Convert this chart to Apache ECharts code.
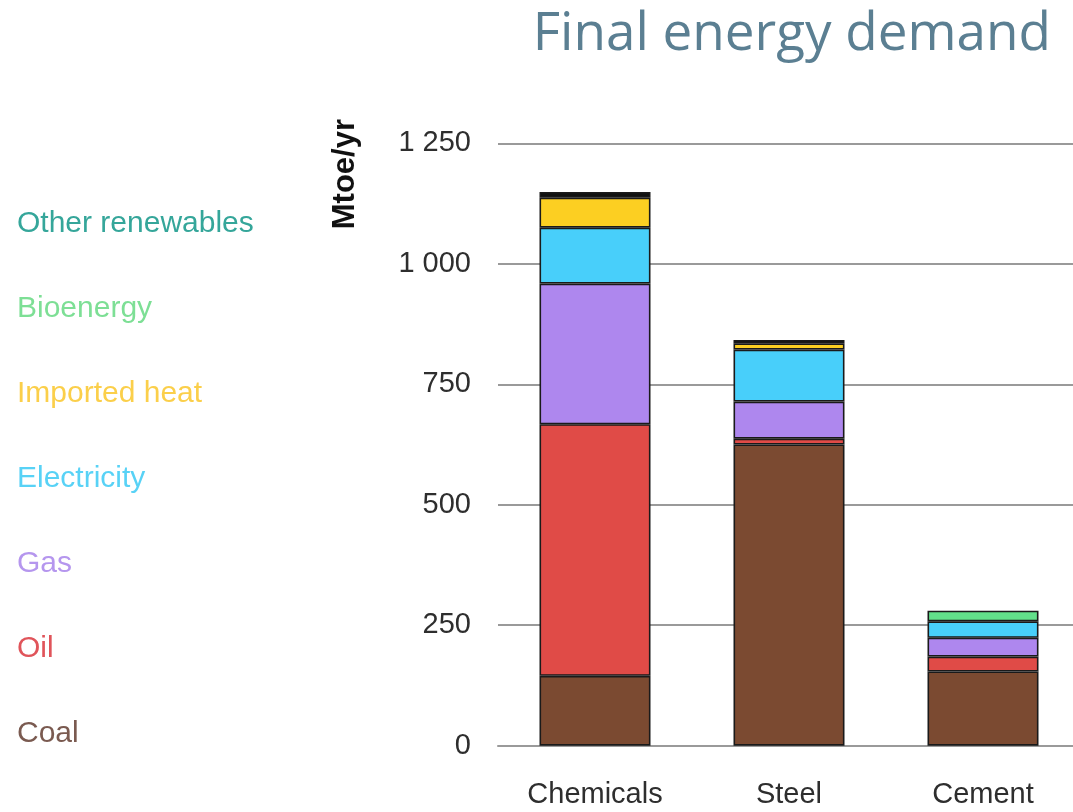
<!DOCTYPE html>
<html>
<head>
<meta charset="utf-8">
<title>Final energy demand</title>
<script src="https://cdn.jsdelivr.net/npm/echarts@6/dist/echarts.min.js"></script>
<style>
  html, body { margin: 0; padding: 0; background: #ffffff; overflow: hidden; }
  /* the plot area runs slightly past the right edge of the page */
  #chart { width: 1082px; height: 812px; }
</style>
</head>
<body>
<div id="chart"></div>
<script>
// Sectors on the x axis
const sectors = ['Chemicals', 'Steel', 'Cement'];

// Final energy demand by carrier, Mtoe/yr (null = not used in that sector)
const coal = [145, 625, 154];
const oil = [522, 12, 31];
const gas = [292, 77, 39];
const electricity = [116, 108, 34];
const importedHeat = [62, 13, null];
const bioenergy = [null, null, 22];
const otherRenewables = [12, 7, null];

// Value axis ticks
const yTicks = [0, 250, 500, 750, 1000, 1250];

const carriers = [
  { name: 'Coal', data: coal, fill: '#7b4a31', text: '#7a5a50' },
  { name: 'Oil', data: oil, fill: '#e04b47', text: '#e0545a' },
  { name: 'Gas', data: gas, fill: '#ae87ee', text: '#b596ee' },
  { name: 'Electricity', data: electricity, fill: '#48cffa', text: '#58d2f6' },
  { name: 'Imported heat', data: importedHeat, fill: '#fccf22', text: '#fbcf4a' },
  { name: 'Bioenergy', data: bioenergy, fill: '#62e08a', text: '#7ddf95' },
  { name: 'Other renewables', data: otherRenewables, fill: '#111111', text: '#35a69a' }
];

const chart = echarts.init(document.getElementById('chart'), null, { renderer: 'canvas' });

const fmt = v => {
  const s = String(v);
  return s.length > 3 ? s.slice(0, s.length - 3) + ' ' + s.slice(-3) : s;
};

chart.setOption({
  animation: false,
  backgroundColor: '#ffffff',
  title: {
    text: 'Final energy demand',
    right: 26,
    top: 3,
    textStyle: {
      fontFamily: "'Open Sans', sans-serif",
      fontWeight: 'normal',
      fontSize: 53,
      color: '#5b7f92'
    }
  },
  legend: {
    orient: 'vertical',
    left: 6,
    top: 204,
    itemWidth: 0,
    itemHeight: 0,
    itemGap: 55,
    icon: 'rect',
    selectedMode: false,
    data: carriers.slice().reverse().map(c => ({
      name: c.name,
      textStyle: { color: c.text }
    })),
    textStyle: {
      fontFamily: "'Liberation Sans', Arial, sans-serif",
      fontSize: 30,
      lineHeight: 30
    }
  },
  graphic: [{
    type: 'text',
    left: 330,
    top: 119,
    style: {
      text: 'Mtoe/yr',
      fontFamily: "'Liberation Sans', Arial, sans-serif",
      fontWeight: 'bold',
      fontSize: 31,
      fill: '#111111'
    },
    rotation: Math.PI / 2,
    originX: 0,
    originY: 0
  }],
  grid: {
    left: 498,
    top: 143.3,
    width: 582,
    height: 602.4,
    containLabel: false
  },
  xAxis: {
    type: 'category',
    data: sectors,
    axisLine: { show: true, lineStyle: { color: '#9a9a9a', width: 2 } },
    axisTick: { show: false },
    axisLabel: {
      interval: 0,
      margin: 35,
      fontFamily: "'Liberation Sans', Arial, sans-serif",
      fontSize: 29,
      color: '#2e2e2e'
    }
  },
  yAxis: {
    type: 'value',
    min: yTicks[0],
    max: yTicks[yTicks.length - 1],
    interval: yTicks[1] - yTicks[0],
    axisLine: { show: false },
    axisTick: { show: false },
    splitLine: { lineStyle: { color: '#9a9a9a', width: 2 } },
    axisLabel: {
      margin: 27,
      formatter: fmt,
      fontFamily: "'Liberation Sans', Arial, sans-serif",
      fontSize: 29,
      color: '#2e2e2e'
    }
  },
  series: carriers.map(c => ({
    name: c.name,
    type: 'bar',
    stack: 'demand',
    barWidth: 111,
    data: c.data,
    itemStyle: {
      color: c.fill,
      borderColor: '#1a1a1a',
      borderWidth: 1.6
    },
    emphasis: { disabled: true }
  }))
});
</script>
</body>
</html>
